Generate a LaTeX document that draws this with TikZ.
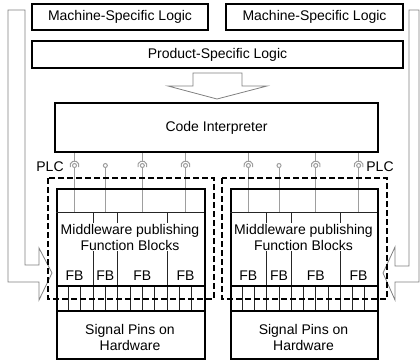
\documentclass[tikz,border=0pt]{standalone}
\usepackage{fontspec}
\setmainfont{Liberation Sans}

% One PLC module: frame, function-block layer, pin strip and hardware pins.
% #1 name, #2 left x, #3 right x
\newcommand\plcmodule[3]{%
  \pgfmathsetmacro\cw{(#3-#2)/12}%
  \pgfmathsetmacro\mx{(#2+#3)/2}%
  \pgfmathsetmacro\mw{#3-#2}%
  % wires from the interpreter down to the function blocks
  \foreach \k/\sock [count=\i] in {1.5/1,4/0,7/1,10.5/1}{%
    \coordinate (#1-w\i) at ({#2+\k*\cw},165.5);
    \ifnum\sock=1
      \draw[wire] (ci.south -| #1-w\i) -- ([yshift=4.5pt]#1-w\i);
      \draw[wire] ([shift={(200:4.5pt)}]#1-w\i) arc[start angle=200,end angle=-20,radius=4.5pt];
    \fi
    \draw[wire] (#1-w\i) circle[radius=2pt];
    \draw[wire] ([yshift=-2pt]#1-w\i) -- (#1-w\i |- 0,212);
  }
  \node[box, anchor=north west, minimum width=\mw pt, minimum height=170pt] (#1) at (#2,188) {};
  \draw[grid] (#2,212) -- (#3,212);
  \foreach \k in {3,5,9}
    \draw[grid] ({#2+\k*\cw},212) -- ({#2+\k*\cw},286);
  \foreach \k in {1,...,11}
    \draw[grid] ({#2+\k*\cw},286) -- ({#2+\k*\cw},311);
  \draw[band] (#2,286) -- (#3,286);
  \draw[band] (#2,311) -- (#3,311);
  \node[fill=white, inner sep=1pt, align=center] (#1-mw) at (\mx,237)
    {Middleware publishing\\Function Blocks};
  \foreach \a/\b [count=\i] in {0/3,3/5,5/9,9/12}
    \node (#1-fb\i) at ({#2+(\a+\b)/2*\cw},276) {FB};
  \node[align=center] (#1-pins) at (\mx,337) {Signal Pins on\\Hardware};
}

\begin{document}
\begin{tikzpicture}[x=1pt,y=-1pt,
  font=\fontsize{14}{16}\selectfont,
  box/.style={draw=black, line width=2pt, inner sep=0pt},
  grid/.style={draw=black!85, line width=0.9pt},
  band/.style={draw=black, line width=1.8pt},
  wire/.style={draw=black!38, line width=1pt},
  hollow/.style={draw=black!50, line width=0.8pt, line join=miter},
  frame/.style={draw=black, line width=2.4pt, dash pattern=on 6pt off 3pt},
]
\useasboundingbox (0,0) rectangle (420,362);

% feedback arrows on both sides
\draw[hollow] (8,10) -- (25,10) -- (25,265) -- (39,265) -- (39,248)
  -- (52,273) -- (39,300) -- (39,282) -- (8,282) -- cycle;
\draw[hollow] (419,10) -- (409,10) -- (409,266) -- (395,266) -- (395,247)
  -- (383,273) -- (395,300) -- (395,282) -- (419,282) -- cycle;

% logic layers
\node[box, minimum width=176pt, minimum height=26pt] (msl1) at (120,17) {Machine-Specific Logic};
\node[box, minimum width=177pt, minimum height=26pt] (msl2) at (314.5,17) {Machine-Specific Logic};
\node[box, minimum width=371pt, minimum height=27pt] (psl) at (217.5,54.5) {Product-Specific Logic};

% arrow from the product logic to the interpreter
\draw[hollow] (193,73) -- (242,73) -- (242,86) -- (267,86) -- (217,99)
  -- (168,86) -- (193,86) -- cycle;

\node[box, minimum width=323pt, minimum height=49pt] (ci) at (216.5,127.5) {Code Interpreter};

\plcmodule{ml}{56}{204}
\plcmodule{mr}{230}{377}

% PLC boundaries
\draw[frame] (48,178) rectangle (214,299);
\draw[frame] (222,178) rectangle (387,299);
\node (plc1) at (50,167) {PLC};
\node (plc2) at (380,167) {PLC};
\end{tikzpicture}
\end{document}
